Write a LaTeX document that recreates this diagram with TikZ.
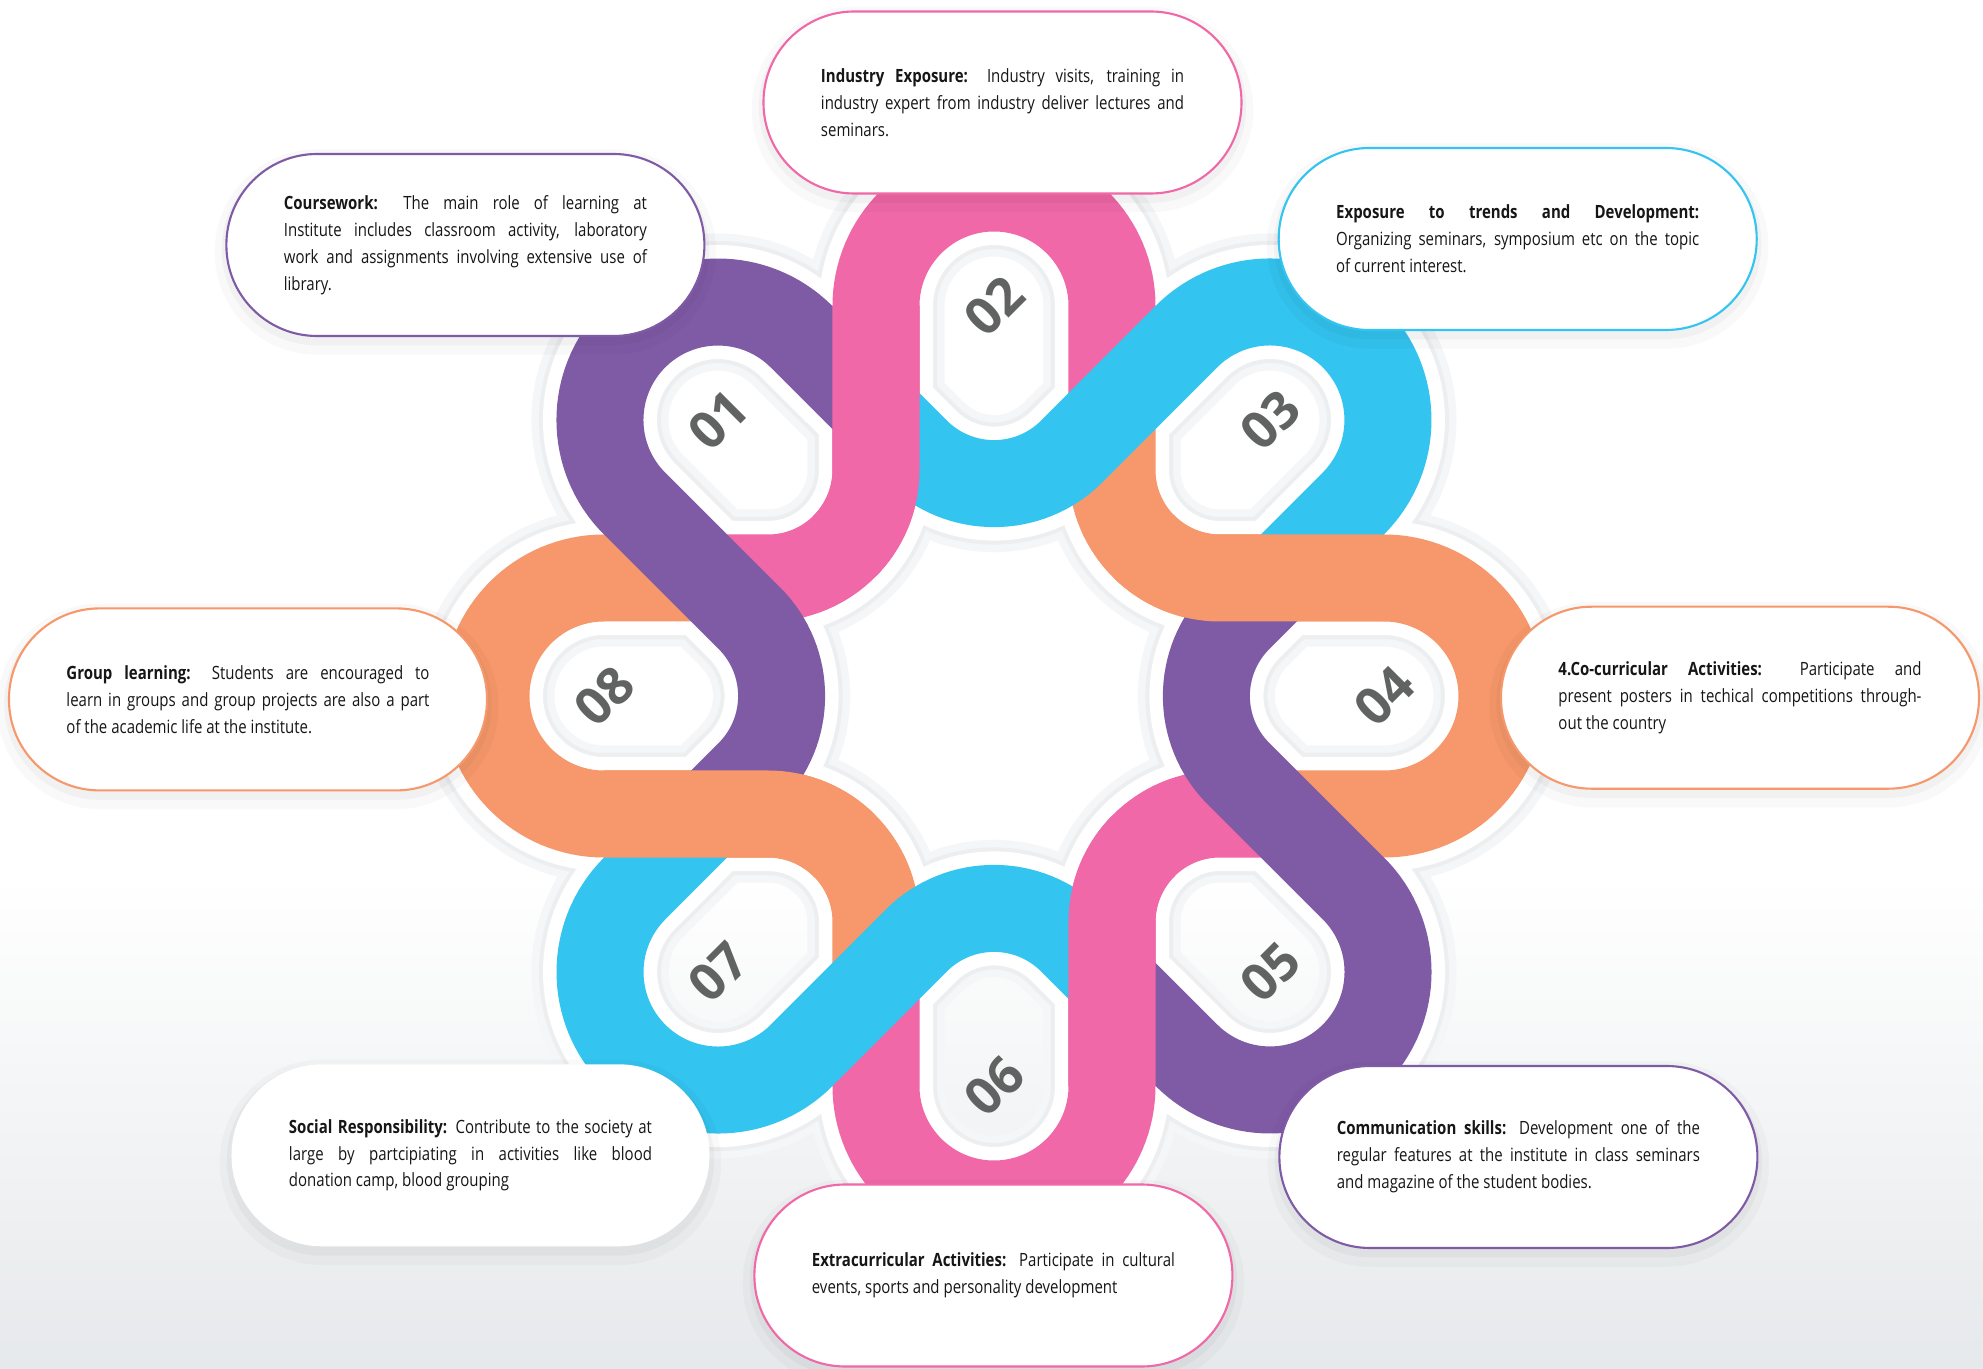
\documentclass[tikz,border=0pt]{standalone}
\usepackage{fontspec}
\setmainfont[FakeStretch=0.82]{Open Sans}
\newfontfamily\numfont{Open Sans}
\tolerance=10000
\hbadness=10000

\definecolor{pinkband}{RGB}{240,104,167}
\definecolor{cyanband}{RGB}{51,196,240}
\definecolor{purpleband}{RGB}{127,91,166}
\definecolor{orangeband}{RGB}{246,152,107}
\definecolor{numgray}{RGB}{97,99,99}
\definecolor{textblack}{RGB}{22,22,22}
\definecolor{haloline}{RGB}{236,238,240}
\definecolor{halosoft}{RGB}{245,246,247}
\definecolor{bgbottom}{RGB}{230,233,235}

% centre lines of the two bands of the top quarter
\newcommand{\axisloop}{(118,285) -- (118,390) arc[start angle=0, end angle=180, radius=118] -- (-118,226) arc[start angle=0, end angle=-90, radius=108] -- (-285,118)}
\newcommand{\diagloop}{(284.9,118) -- (359.4,192.6) arc[start angle=-45, end angle=135, radius=118] -- (77.8,244.6) arc[start angle=-45, end angle=-135, radius=110] -- (-118,284.9)}
\newcommand{\axisleg}{(-118,390) -- (-118,226) arc[start angle=0, end angle=-45, radius=108]}

\begin{document}
\begin{tikzpicture}[x=0.015cm, y=0.015cm]
\tikzstyle{band} = [line width=1.305cm]
\tikzstyle{halo_soft} = [line width=2.055cm, draw=halosoft]
\tikzstyle{halo_line} = [line width=1.83cm, draw=haloline]
\tikzstyle{halo_white} = [line width=1.71cm, draw=white]
\tikzstyle{num} = [rotate=45, text=numgray, font=\numfont\bfseries\fontsize{22}{22}\selectfont]
\tikzstyle{infobox} = [fill=white, line width=0.9pt, rounded corners=1.36cm,
minimum width=7.17cm, minimum height=2.73cm, text width=5.445cm, inner sep=0pt,
align=justify, text=textblack, font=\fontsize{7.8}{11.5}\selectfont,
preaction={draw=black, opacity=0.025, line width=10pt, transform canvas={yshift=-3pt}},
preaction={draw=black, opacity=0.03, line width=4pt, transform canvas={yshift=-2pt}}]

\useasboundingbox (-994,-673) rectangle (989,696);
\fill[white] (-994,-673) rectangle (989,696);
\shade[top color=white, bottom color=bgbottom] (-994,-673) rectangle (989,-180);

% plate under the bands
\foreach \r in {0,-90,-180,-270}
  \draw[halo_soft, rotate=\r] \axisloop \diagloop;
\foreach \r in {0,-90,-180,-270}
  \draw[halo_line, rotate=\r] \axisloop \diagloop;
\foreach \r in {0,-90,-180,-270}
  \draw[halo_white, rotate=\r] \axisloop \diagloop;

% bands
\foreach \r/\col in {0/pinkband,-90/orangeband,-180/pinkband,-270/orangeband}
  \draw[band, draw=\col, rotate=\r] \axisloop;
\foreach \r/\col in {0/cyanband,-90/purpleband,-180/cyanband,-270/purpleband}
  \draw[band, draw=\col, rotate=\r] \diagloop;
% legs that pass over the band ends
\foreach \r/\col in {0/pinkband,-90/orangeband,-180/pinkband,-270/orangeband}
  \draw[band, draw=\col, rotate=\r] \axisleg;

% numbers
\node[num] (n01) at (-276,276) {01};
\node[num] (n02) at (0,390) {02};
\node[num] (n03) at (276,276) {03};
\node[num] (n04) at (390,0) {04};
\node[num] (n05) at (276,-276) {05};
\node[num] (n06) at (0,-390) {06};
\node[num] (n07) at (-276,-276) {07};
\node[num] (n08) at (-390,0) {08};

% text boxes
\node[infobox, draw=purpleband] (b01) at (-528.6,451) {\textbf{Coursework:} The main role of learning at\linebreak Institute includes classroom activity, laboratory\linebreak work and assignments involving extensive use of\linebreak library.};
\node[infobox, draw=pinkband] (b02) at (8.5,593.5) {\textbf{Industry Exposure:} Industry visits, training in\linebreak industry expert from industry deliver lectures and\linebreak seminars.};
\node[infobox, draw=cyanband] (b03) at (523.7,457) {\textbf{Exposure to trends and Development:}\linebreak Organizing seminars, symposium etc on the topic\linebreak of current interest.};
\node[infobox, draw=orangeband] (b04) at (746,-1.7) {\textbf{4.Co-curricular Activities:} Participate and\linebreak present posters in techical competitions through-\linebreak out the country};
\node[infobox, draw=purpleband] (b05) at (524.4,-461) {\textbf{Communication skills:} Development one of the\linebreak regular features at the institute in class seminars\linebreak and magazine of the student bodies.};
\node[infobox, draw=pinkband] (b06) at (-0.6,-579.5) {\textbf{Extracurricular Activities:} Participate in cultural\linebreak events, sports and personality development};
\node[infobox] (b07) at (-523.5,-459.3) {\textbf{Social Responsibility:} Contribute to the society at\linebreak large by partcipiating in activities like blood\linebreak donation camp, blood grouping};
\node[infobox, draw=orangeband] (b08) at (-746,-3.4) {\textbf{Group learning:} Students are encouraged to\linebreak learn in groups and group projects are also a part\linebreak of the academic life at the institute.};
\end{tikzpicture}
\end{document}
